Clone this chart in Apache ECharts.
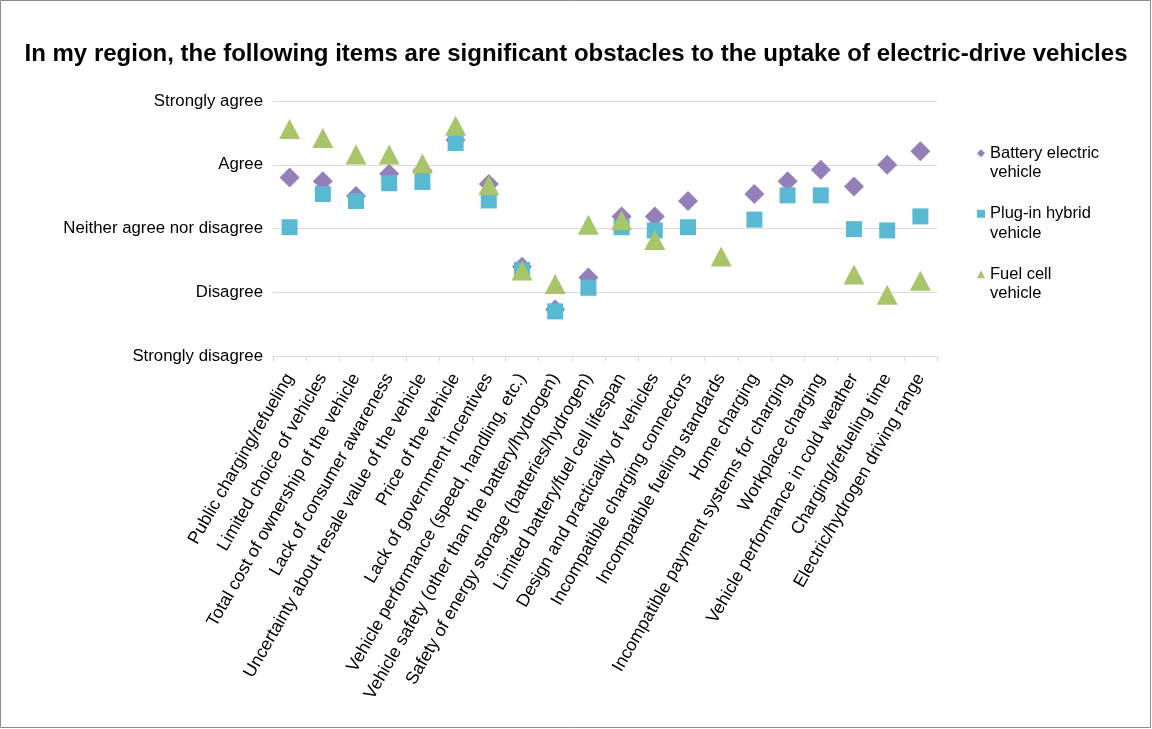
<!DOCTYPE html>
<html>
<head>
<meta charset="utf-8">
<script src="https://cdn.jsdelivr.net/npm/echarts@6/dist/echarts.min.js"></script>
<style>
  html, body { margin: 0; padding: 0; background: #fff; }
  #chart { width: 1152px; height: 729px; }
</style>
</head>
<body>
<div id="chart"></div>
<script>
// obstacle items along the x axis
const categories = [
  "Public charging/refueling",
  "Limited choice of vehicles",
  "Total cost of ownership of the vehicle",
  "Lack of consumer awareness",
  "Uncertainty about resale value of the vehicle",
  "Price of the vehicle",
  "Lack of government incentives",
  "Vehicle performance (speed, handling, etc.)",
  "Vehicle safety (other than the battery/hydrogen)",
  "Safety of energy storage (batteries/hydrogen)",
  "Limited battery/fuel cell lifespan",
  "Design and practicality of vehicles",
  "Incompatible charging connectors",
  "Incompatible fueling standards",
  "Home charging",
  "Incompatible payment systems for charging",
  "Workplace charging",
  "Vehicle performance in cold weather",
  "Charging/refueling time",
  "Electric/hydrogen driving range"
];

// 1 = strongly disagree ... 5 = strongly agree
const yTickLabels = ["Strongly disagree", "Disagree", "Neither agree nor disagree", "Agree", "Strongly agree"];

const batteryElectric = [3.80, 3.74, 3.51, 3.86, 3.91, 4.39, 3.70, 2.40, 1.73, 2.23,
  3.19, 3.19, 3.43, null, 3.54, 3.74, 3.92, 3.66, 4.00, 4.21];
const pluginHybrid = [3.02, 3.54, 3.43, 3.71, 3.73, 4.34, 3.44, 2.35, 1.70, 2.07,
  3.02, 2.97, 3.02, null, 3.14, 3.52, 3.52, 2.99, 2.97, 3.19];
const fuelCell = [4.56, 4.42, 4.16, 4.16, 4.02, 4.61, 3.68, 2.34, 2.13, 3.06,
  3.13, 2.82, null, 2.56, null, null, null, 2.28, 1.96, 2.18];

const chart = echarts.init(document.getElementById("chart"));
const font = "Liberation Sans, Arial, sans-serif";

chart.setOption({
  animation: false,
  backgroundColor: "#fff",
  textStyle: { fontFamily: font },
  title: {
    text: "In my region, the following items are significant obstacles to the uptake of electric-drive vehicles",
    left: "center",
    top: 37,
    textStyle: { fontSize: 24, fontWeight: "bold", color: "#000", fontFamily: font }
  },
  graphic: [{
    type: "rect",
    shape: { x: 0.5, y: 0.5, width: 1150, height: 727 },
    style: { fill: "none", stroke: "#8c8c8c", lineWidth: 1 },
    silent: true
  }],
  legend: {
    orient: "vertical",
    left: 972,
    top: 119,
    itemWidth: 8,
    itemHeight: 8,
    itemGap: 2,
    // leading blank line keeps the marker level with the first text line
    formatter: function (name) {
      return "\n" + name.replace(/ (vehicle)$/, "\n$1");
    },
    textStyle: { fontSize: 16.5, color: "#000", lineHeight: 19.5, fontFamily: font }
  },
  grid: { left: 273, right: 215, top: 101, bottom: 373 },
  xAxis: {
    type: "category",
    data: categories,
    boundaryGap: true,
    axisLine: { lineStyle: { color: "#d9d9d9", width: 1 } },
    axisTick: { show: true, length: 5, lineStyle: { color: "#d9d9d9" } },
    axisLabel: { interval: 0, rotate: 60, fontSize: 17.7, color: "#000", margin: 19, fontFamily: font },
    splitLine: { show: false }
  },
  yAxis: {
    type: "value",
    min: 1,
    max: 5,
    interval: 1,
    axisLine: { show: false },
    axisTick: { show: false },
    splitLine: { lineStyle: { color: "#d9d9d9", width: 1 } },
    axisLabel: {
      fontSize: 16.8, color: "#000", margin: 10, fontFamily: font,
      formatter: function (v) { return yTickLabels[Math.round(v) - 1]; }
    }
  },
  series: [
    {
      name: "Battery electric vehicle",
      type: "scatter",
      symbol: "diamond",
      symbolSize: [20, 20],
      itemStyle: { color: "#957fb8", opacity: 1 },
      data: batteryElectric
    },
    {
      name: "Plug-in hybrid vehicle",
      type: "scatter",
      symbol: "rect",
      symbolSize: [16, 16],
      itemStyle: { color: "#5ab9d2", opacity: 1 },
      data: pluginHybrid
    },
    {
      name: "Fuel cell vehicle",
      type: "scatter",
      symbol: "triangle",
      symbolSize: [21, 20],
      itemStyle: { color: "#a8c56a", opacity: 1 },
      data: fuelCell
    }
  ]
});
</script>
</body>
</html>
